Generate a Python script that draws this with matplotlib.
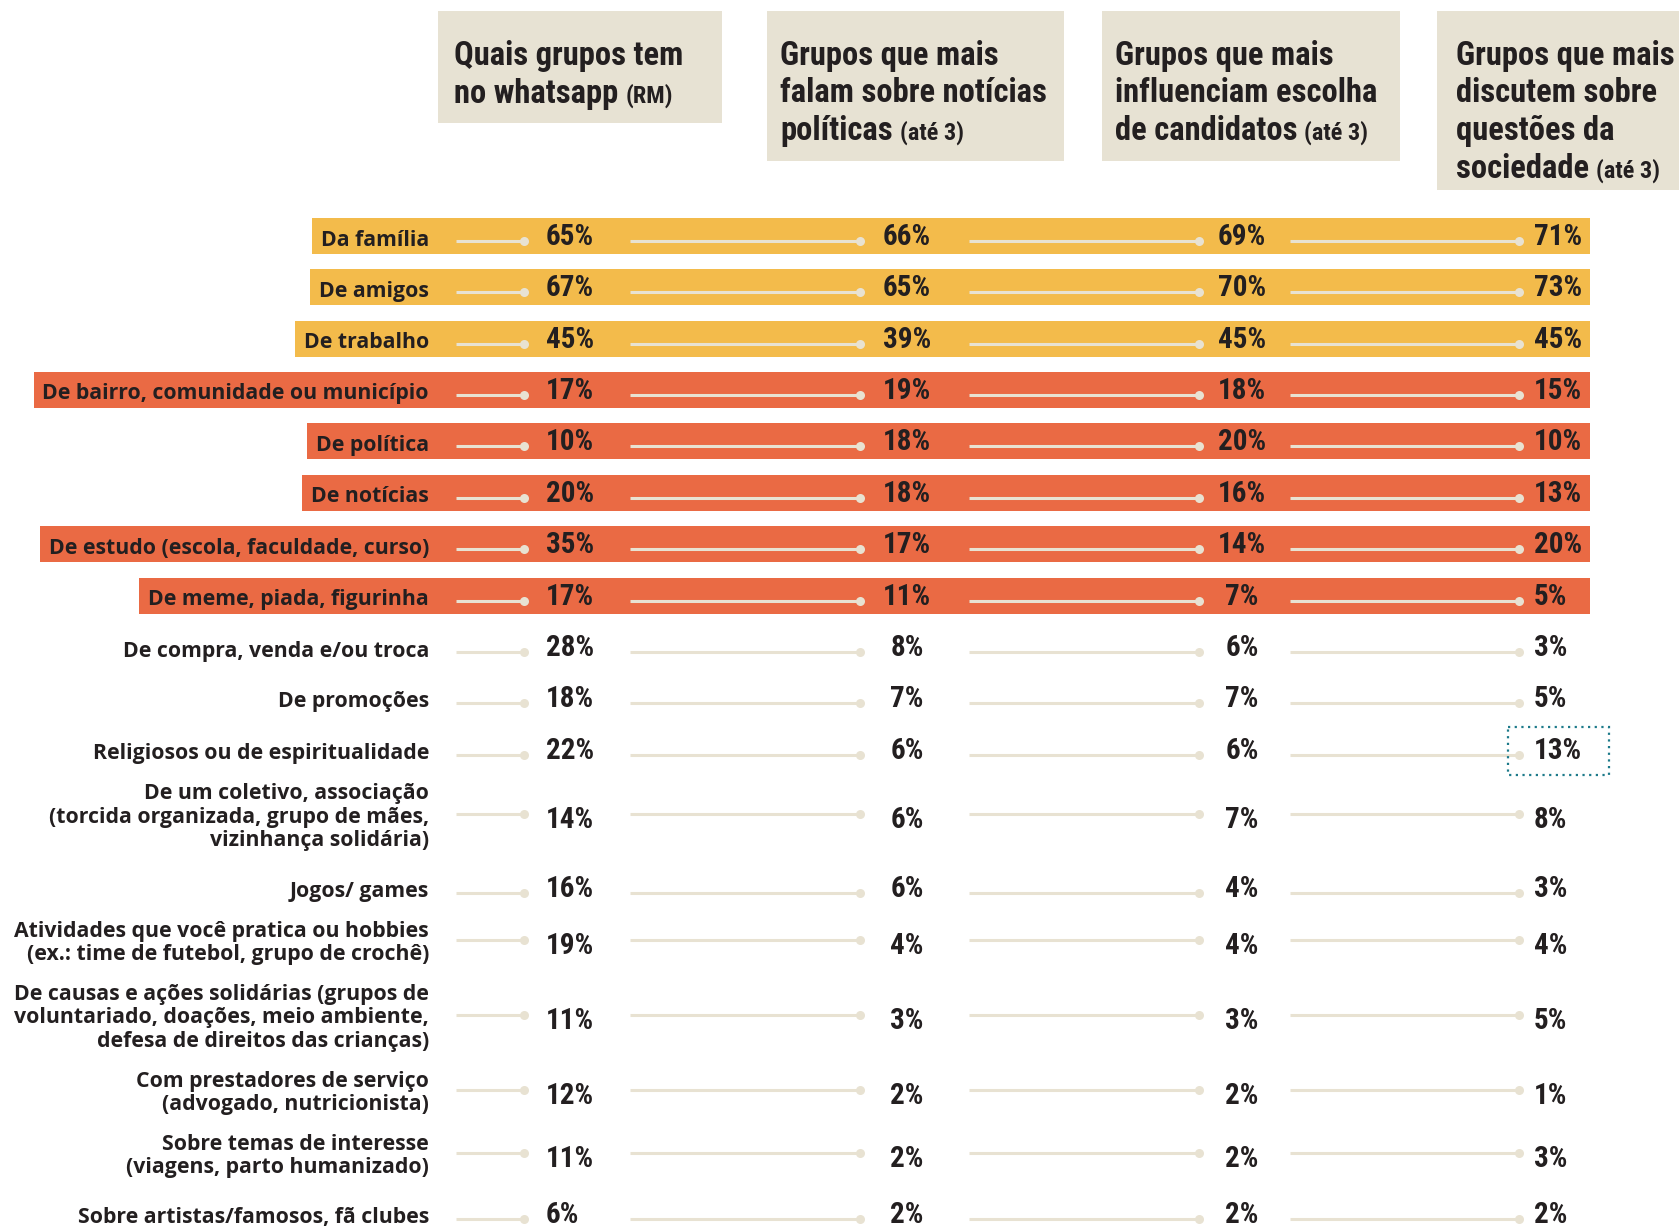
import matplotlib
matplotlib.use("Agg")
import matplotlib.pyplot as plt
from matplotlib import font_manager
from matplotlib.patches import Rectangle

# ---- data ----
groups = [
    "Da família",
    "De amigos",
    "De trabalho",
    "De bairro, comunidade ou município",
    "De política",
    "De notícias",
    "De estudo (escola, faculdade, curso)",
    "De meme, piada, figurinha",
    "De compra, venda e/ou troca",
    "De promoções",
    "Religiosos ou de espiritualidade",
    "De um coletivo, associação\n(torcida organizada, grupo de mães,\nvizinhança solidária)",
    "Jogos/ games",
    "Atividades que você pratica ou hobbies\n(ex.: time de futebol, grupo de crochê)",
    "De causas e ações solidárias (grupos de\nvoluntariado, doações, meio ambiente,\ndefesa de direitos das crianças)",
    "Com prestadores de serviço\n(advogado, nutricionista)",
    "Sobre temas de interesse\n(viagens, parto humanizado)",
    "Sobre artistas/famosos, fã clubes",
]
tem_no_whatsapp = [65, 67, 45, 17, 10, 20, 35, 17, 28, 18, 22, 14, 16, 19, 11, 12, 11, 6]
falam_noticias = [66, 65, 39, 19, 18, 18, 17, 11, 8, 7, 6, 6, 6, 4, 3, 2, 2, 2]
influenciam_candidatos = [69, 70, 45, 18, 20, 16, 14, 7, 6, 7, 6, 7, 4, 4, 3, 2, 2, 2]
discutem_sociedade = [71, 73, 45, 15, 10, 13, 20, 5, 3, 5, 13, 8, 3, 4, 5, 1, 3, 2]
highlight = ["top"] * 3 + ["mid"] * 5 + [None] * 10

titles = [
    ["Quais grupos tem", "no whatsapp"],
    ["Grupos que mais", "falam sobre notícias", "políticas"],
    ["Grupos que mais", "influenciam escolha", "de candidatos"],
    ["Grupos que mais", "discutem sobre", "questões da", "sociedade"],
]
notes = ["(RM)", "(até 3)", "(até 3)", "(até 3)"]

# ---- layout (pixels, figure is 1679 x 1226) ----
W, H = 1679, 1226
row_y = [237, 288, 340, 391, 442, 494, 545, 597, 648, 699, 751, 814,
         889, 940, 1015, 1090, 1153, 1215]
label_right = 429
line_start = [456, 630, 969, 1290]
dot_x = [524, 860, 1199, 1519]
value_x = [546, 907, 1242, 1534]
value_ha = ["left", "center", "center", "left"]
box_x = [(438, 722), (767, 1064), (1102, 1400), (1437, 1690)]
text_pad = [16, 13, 13, 19]
box_bottom = [123, 161, 161, 190]
band_right = 1590

colors = {"top": "#F3BB4B", "mid": "#EA6A44"}
beige = "#E8E2D2"
ink = "#231F20"

avail = {f.name for f in font_manager.fontManager.ttflist}
narrow = next((n for n in ["Liberation Sans Narrow", "DejaVu Sans Condensed",
                           "Roboto Condensed", "Open Sans Condensed"] if n in avail),
              "DejaVu Sans")
label_font = "Open Sans" if "Open Sans" in avail else "DejaVu Sans"

fig = plt.figure(figsize=(W / 100, H / 100), dpi=100)
ax = fig.add_axes([0, 0, 1, 1])
ax.set_xlim(0, W)
ax.set_ylim(H, 0)
ax.axis("off")

# header boxes
for (x0, x1), pad, yb, lines, note in zip(box_x, text_pad, box_bottom, titles, notes):
    ax.add_patch(Rectangle((x0, 11), x1 - x0, yb - 11, color="#E7E2D3", lw=0, zorder=0))
    base = 65
    for i, ln in enumerate(lines):
        t = ax.text(x0 + pad, base + i * 37.5, ln, fontsize=23.5, fontweight="bold",
                    family=narrow, color=ink, va="baseline", ha="left")
    ax.annotate(note, xy=(1, base + (len(lines) - 1) * 37.5), xycoords=(t, "data"),
                xytext=(5, 0), textcoords="offset points", fontsize=17.5,
                fontweight="bold", family=narrow, color=ink, va="baseline")

fig.canvas.draw()
renderer = fig.canvas.get_renderer()
inv = ax.transData.inverted()

series = [tem_no_whatsapp, falam_noticias, influenciam_candidatos, discutem_sociedade]
for i, (name, y, hl) in enumerate(zip(groups, row_y, highlight)):
    lab = ax.text(label_right, y + 3, name, fontsize=15.3, fontweight="bold",
                  family=label_font, color=ink, ha="right", va="center",
                  multialignment="right", linespacing=1.15, zorder=3)
    if hl:
        bb = lab.get_window_extent(renderer)
        x_left = inv.transform((bb.x0, 0))[0] - 9
        ax.barh(y - 1, band_right - x_left, left=x_left, height=36,
                color=colors[hl], zorder=1)
    single = "\n" not in name
    line_y = y + 4 if single else y
    val_y = y if single else y + 6
    for c, vals in enumerate(series):
        ax.plot([line_start[c], dot_x[c]], [line_y, line_y], color=beige, lw=2.2,
                solid_capstyle="butt", zorder=2)
        ax.plot(dot_x[c], line_y, "o", ms=6.5, color=beige, mec="none", zorder=2)
        ax.text(value_x[c], val_y, f"{vals[i]}%", fontsize=21, fontweight="bold",
                family=narrow, color=ink, ha=value_ha[c], va="center", zorder=3)

# dotted frame around one value
ax.add_patch(Rectangle((1508, 727), 101, 48, fill=False, ec="#1D7A8A", lw=1.6,
                       ls=(0, (1, 2)), zorder=4))

fig.savefig("out.png", dpi=100)
